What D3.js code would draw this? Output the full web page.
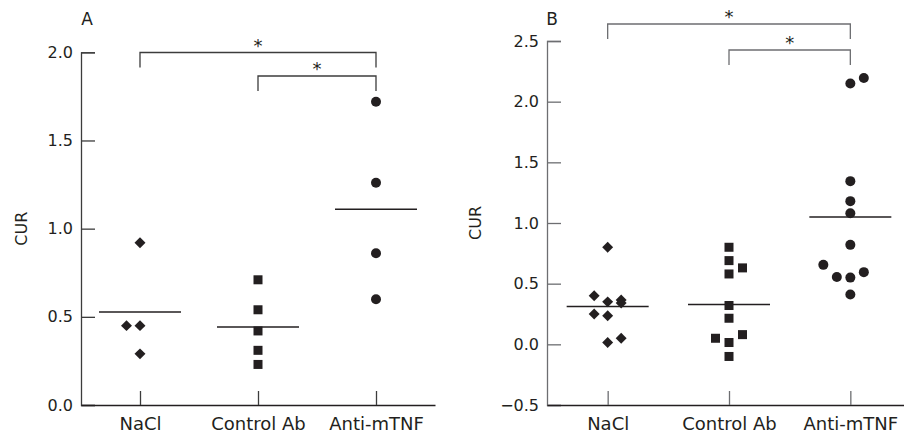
<!DOCTYPE html>
<html>
<head>
<meta charset="utf-8">
<script src="https://cdn.jsdelivr.net/npm/d3@7"></script>
<style>
  body { margin: 0; background: #fff; }
  text { font-family: "DejaVu Sans", sans-serif; fill: #231f20; }
</style>
</head>
<body>
<div id="chart"></div>
<script>
const width = 904;
const height = 435;

const categories = ["NaCl", "Control Ab", "Anti-mTNF"];

// panel A values (CUR) and jitter column per point
const aNaCl = [0.92, 0.45, 0.45, 0.29];
const aNaClCol = [0, -1, 0, 0];
const aControl = [0.71, 0.54, 0.42, 0.31, 0.23];
const aControlCol = [0, 0, 0, 0, 0];
const aAnti = [1.72, 1.26, 0.86, 0.60];
const aAntiCol = [0, 0, 0, 0];

// panel B
const bNaCl = [0.80, 0.40, 0.35, 0.365, 0.34, 0.25, 0.235, 0.015, 0.05];
const bNaClCol = [0, -1, 0, 1, 1, -1, 0, 0, 1];
const bControl = [0.80, 0.69, 0.63, 0.58, 0.32, 0.215, 0.05, 0.08, 0.015, -0.10];
const bControlCol = [0, 0, 1, 0, 0, 0, -1, 1, 0, 0];
const bAnti = [2.15, 2.195, 1.345, 1.18, 1.08, 0.82, 0.655, 0.555, 0.55, 0.595, 0.41];
const bAntiCol = [0, 1, 0, 0, 0, 0, -2, -1, 0, 1, 0];

const ticksA = [0, 0.5, 1.0, 1.5, 2.0];
const ticksB = [-0.5, 0, 0.5, 1.0, 1.5, 2.0, 2.5];

// significance brackets: [from category, to category]
const compA = [["NaCl", "Anti-mTNF"], ["Control Ab", "Anti-mTNF"]];
const compB = [["NaCl", "Anti-mTNF"], ["Control Ab", "Anti-mTNF"]];

const svg = d3
  .select("#chart")
  .append("svg")
  .attr("width", width)
  .attr("height", height)
  .attr("viewBox", [0, 0, width, height]);

const markerColor = "#231f20";
const shapes = ["diamond", "square", "circle"];

function drawPanel(p) {
  const g = svg.append("g");

  let x = d3
    .scalePoint()
    .domain(categories)
    .range([p.left, p.right])
    .padding(0.5);

  let y = d3
    .scaleLinear()
    .domain(d3.extent(p.ticks))
    .range([p.bottom, p.top]);

  // y axis, ticks point inward
  const yAxis = g
    .append("g")
    .attr("transform", `translate(${p.left},0)`)
    .call(
      d3
        .axisLeft(y)
        .tickValues(p.ticks)
        .tickSize(-14)
        .tickPadding(8)
        .tickFormat(d3.format(".1f"))
    );
  yAxis.select(".domain").attr("stroke", p.axisColor).attr("stroke-width", 1.3);
  yAxis.selectAll(".tick line").attr("stroke", p.axisColor).attr("stroke-width", 1.3);
  yAxis.selectAll(".tick text").style("font-size", "16px").attr("fill", "#231f20");

  // x axis
  const xAxis = g
    .append("g")
    .attr("transform", `translate(0,${p.bottom})`)
    .call(d3.axisBottom(x).tickSize(-14).tickPadding(12).tickSizeOuter(0));
  xAxis.select(".domain").attr("stroke", "#231f20").attr("stroke-width", 1.3);
  xAxis.selectAll(".tick line").attr("stroke", p.axisColor).attr("stroke-width", 1.3);
  xAxis.selectAll(".tick text").style("font-size", "18px").attr("fill", "#231f20");

  // y label
  g.append("text")
    .text("CUR")
    .attr("transform", `translate(${p.labelX},${(p.top + p.bottom) / 2}) rotate(-90)`)
    .attr("text-anchor", "middle")
    .attr("dominant-baseline", "middle")
    .style("font-size", "16px");

  // panel letter
  g.append("text")
    .text(p.letter)
    .attr("x", p.letterX)
    .attr("y", 25)
    .attr("text-anchor", "middle")
    .style("font-size", "17px");

  const step = 13.5;
  p.groups.forEach((vals, i) => {
    const cx = x(categories[i]);
    const cols = p.cols[i];
    const shape = shapes[i];
    const pts = g.append("g");
    vals.forEach((v, j) => {
      const px = cx + cols[j] * step;
      const py = y(v);
      if (shape === "circle") {
        pts.append("circle").attr("cx", px).attr("cy", py).attr("r", 5).attr("fill", markerColor);
      } else if (shape === "square") {
        pts.append("rect")
          .attr("x", px - 4.5).attr("y", py - 4.5)
          .attr("width", 9).attr("height", 9)
          .attr("fill", markerColor);
      } else {
        pts.append("path")
          .attr("d", d3.symbol(d3.symbolSquare, 60)())
          .attr("transform", `translate(${px},${py}) rotate(45)`)
          .attr("fill", markerColor);
      }
    });
    // mean line
    const m = d3.mean(vals);
    g.append("line")
      .attr("x1", cx - 41)
      .attr("x2", cx + 41)
      .attr("y1", y(m))
      .attr("y2", y(m))
      .attr("stroke", "#231f20")
      .attr("stroke-width", 1.5);
  });

  // brackets
  p.comps.forEach((c, k) => {
    const x1 = x(c[0]);
    const x2 = x(c[1]);
    const by = p.bracketY[k];
    g.append("path")
      .attr("d", `M${x1},${by + 15}V${by}H${x2}V${by + 15}`)
      .attr("fill", "none")
      .attr("stroke", p.axisColor)
      .attr("stroke-width", 1.3);
    g.append("text")
      .text("*")
      .attr("x", (x1 + x2) / 2)
      .attr("y", by - 1)
      .attr("text-anchor", "middle")
      .style("font-size", "18px");
  });
}

drawPanel({
  letter: "A",
  letterX: 87,
  labelX: 22,
  left: 81,
  right: 435,
  top: 52.3,
  bottom: 405,
  ticks: ticksA,
  axisColor: "#3c3c3c",
  groups: [aNaCl, aControl, aAnti],
  cols: [aNaClCol, aControlCol, aAntiCol],
  comps: compA,
  bracketY: [52.5, 76],
});

drawPanel({
  letter: "B",
  letterX: 552,
  labelX: 476,
  left: 547,
  right: 911,
  top: 41,
  bottom: 405,
  ticks: ticksB,
  axisColor: "#6d6e71",
  groups: [bNaCl, bControl, bAnti],
  cols: [bNaClCol, bControlCol, bAntiCol],
  comps: compB,
  bracketY: [24, 50],
});
</script>
</body>
</html>
